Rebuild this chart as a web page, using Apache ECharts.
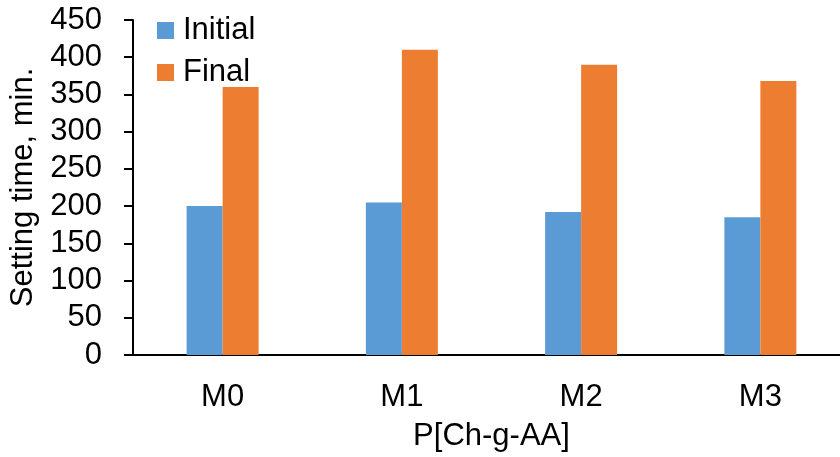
<!DOCTYPE html>
<html><head><meta charset="utf-8">
<script src="https://cdn.jsdelivr.net/npm/echarts@6/dist/echarts.min.js"></script>
<style>html,body{margin:0;padding:0;background:#fff;overflow:hidden;width:840px;height:457px}#c{width:870px;height:457px}</style>
</head><body><div id="c"></div>
<script>
var categories = ['M0', 'M1', 'M2', 'M3'];
var initialValues = [200, 205, 192, 185];
var finalValues = [360, 410, 390, 368];
var yTicks = [0, 50, 100, 150, 200, 250, 300, 350, 400, 450];

var F = '"Liberation Sans", Arial, sans-serif';
var chart = echarts.init(document.getElementById('c'), null, {renderer: 'canvas'});
chart.setOption({
  animation: false,
  textStyle: {fontFamily: F},
  grid: {left: 130, top: 20, width: 720, height: 336, containLabel: false},
  legend: {
    orient: 'vertical', left: 152, top: 10, itemWidth: 17, itemHeight: 17, itemGap: 11,
    icon: 'rect',
    textStyle: {fontSize: 31, fontFamily: F, color: '#000', padding: [0, 0, 0, 4]},
    data: ['Initial', 'Final']
  },
  xAxis: {
    type: 'category', data: categories,
    name: 'P[Ch-g-AA]', nameLocation: 'middle', nameGap: 66,
    nameTextStyle: {fontSize: 31, color: '#000', fontFamily: F},
    axisLine: {lineStyle: {color: '#000', width: 2}},
    axisTick: {show: false},
    axisLabel: {fontSize: 31, color: '#000', margin: 27, fontFamily: F}
  },
  yAxis: {
    type: 'value', min: yTicks[0], max: yTicks[yTicks.length - 1], interval: 50,
    name: 'Setting time, min.', nameLocation: 'middle', nameGap: 94,
    nameTextStyle: {fontSize: 31, color: '#000', fontFamily: F},
    axisLine: {show: true, lineStyle: {color: '#000', width: 2}},
    axisTick: {show: true, length: 9, lineStyle: {color: '#000', width: 2}},
    axisLabel: {fontSize: 31, color: '#000', margin: 31, fontFamily: F},
    splitLine: {show: false}
  },
  series: [
    {name: 'Initial', type: 'bar', data: initialValues, barWidth: 36, barGap: '0%',
     itemStyle: {color: '#5B9BD5'}},
    {name: 'Final', type: 'bar', data: finalValues, barWidth: 36, barGap: '0%',
     itemStyle: {color: '#ED7D31'}}
  ]
});
</script></body></html>
